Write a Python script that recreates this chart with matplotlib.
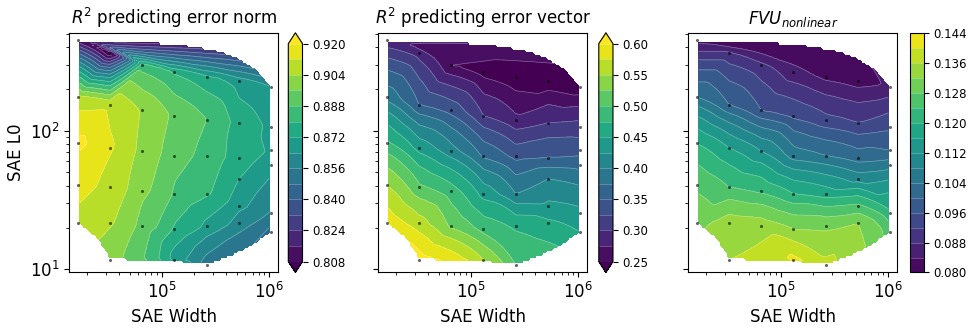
import numpy as np
import matplotlib
matplotlib.use("Agg")
import matplotlib.pyplot as plt
import matplotlib.tri as mtri

# SAE width of every trained SAE (7 widths, 2^14 .. 2^20)
widths = ([16384] * 5 + [32768] * 6 + [65536] * 5 + [131072] * 6
          + [262144] * 6 + [524288] * 6 + [1048576] * 6)

# measured L0 of the same SAEs
l0 = [449, 175, 81, 40.5, 21.5,
      361, 154, 75, 39, 21.5, 11.7,
      297, 140, 71, 37, 20.5,
      264, 128, 66, 35, 19.5, 11.7,
      243, 120, 66, 35, 20.5, 10.7,
      228, 114, 64, 45, 28.5, 21.5,
      207, 106, 72, 57, 25.5, 18.5]

# R^2 predicting error norm
r2_norm = [0.810, 0.906, 0.922, 0.915, 0.910,
           0.800, 0.910, 0.913, 0.909, 0.905, 0.899,
           0.884, 0.903, 0.901, 0.898, 0.893,
           0.879, 0.894, 0.891, 0.887, 0.879, 0.868,
           0.874, 0.888, 0.885, 0.881, 0.870, 0.852,
           0.868, 0.876, 0.875, 0.872, 0.866, 0.860,
           0.864, 0.870, 0.871, 0.868, 0.855, 0.845]

# R^2 predicting error vector
r2_vec = [0.28, 0.39, 0.48, 0.55, 0.59,
          0.29, 0.35, 0.44, 0.505, 0.56, 0.61,
          0.25, 0.34, 0.41, 0.485, 0.52,
          0.24, 0.30, 0.37, 0.44, 0.49, 0.55,
          0.23, 0.28, 0.34, 0.40, 0.47, 0.50,
          0.23, 0.30, 0.35, 0.40, 0.43, 0.455,
          0.23, 0.31, 0.34, 0.365, 0.43, 0.45]

# FVU of the nonlinear part
fvu_nl = [0.082, 0.104, 0.120, 0.127, 0.131,
          0.089, 0.100, 0.116, 0.124, 0.134, 0.136,
          0.089, 0.096, 0.112, 0.123, 0.134,
          0.085, 0.095, 0.106, 0.120, 0.132, 0.141,
          0.083, 0.093, 0.104, 0.118, 0.131, 0.137,
          0.082, 0.092, 0.102, 0.110, 0.125, 0.132,
          0.085, 0.095, 0.100, 0.106, 0.121, 0.126]

titles = [r"$R^2$ predicting error norm", r"$R^2$ predicting error vector",
          r"$FVU_{nonlinear}$"]

lev_norm = np.arange(0.808, 0.9201, 0.008)
lev_vec = np.arange(0.25, 0.6001, 0.025)
lev_fvu = np.arange(0.080, 0.1441, 0.004)

W = np.array(widths, float)
L = np.array(l0, float)
tri = mtri.Triangulation(W, L)
gx = np.logspace(np.log10(W.min()), np.log10(W.max()), 90)
gy = np.logspace(np.log10(L.min()), np.log10(L.max()), 90)
GX, GY = np.meshgrid(gx, gy)

fig = plt.figure(figsize=(9.76, 3.33), dpi=100)
bot, hgt, wid = 0.1817, 0.7198, 0.2141
ax_left = [0.0712, 0.3878, 0.7054]
cb_left = [0.2954, 0.6135, 0.9319]

panels = [(r2_norm, lev_norm, "both", "%.3f"),
          (r2_vec, lev_vec, "both", "%.2f"),
          (fvu_nl, lev_fvu, "neither", "%.3f")]

for i, (z, lev, ext, fmt) in enumerate(panels):
    ax = fig.add_axes([ax_left[i], bot, wid, hgt])
    cax = fig.add_axes([cb_left[i], bot, 0.01455, hgt])
    zi = mtri.LinearTriInterpolator(tri, np.array(z))(GX, GY)
    cs = ax.contourf(GX, GY, zi, levels=lev, cmap="viridis", extend=ext)
    cl = ax.contour(GX, GY, zi, levels=lev, colors="white", linewidths=0.5, alpha=0.35)
    ax.scatter(W, L, s=5, c="k", alpha=0.6, linewidths=0, zorder=3)
    ax.set_xscale("log")
    ax.set_yscale("log")
    ax.set_xlim(10**4.139, 10**6.087)
    ax.set_ylim(10**0.977, 10**2.706)
    ax.set_title(titles[i], fontsize=12)
    ax.set_xlabel("SAE Width", fontsize=12)
    ax.tick_params(labelsize=12)
    if i == 0:
        ax.set_ylabel("SAE L0", fontsize=12)
    else:
        ax.tick_params(labelleft=False)
    cb = fig.colorbar(cs, cax=cax, ticks=lev[::2], format=fmt)
    cb.add_lines(cl)
    cb.ax.tick_params(labelsize=8.5)

fig.savefig("out.png", dpi=100)
